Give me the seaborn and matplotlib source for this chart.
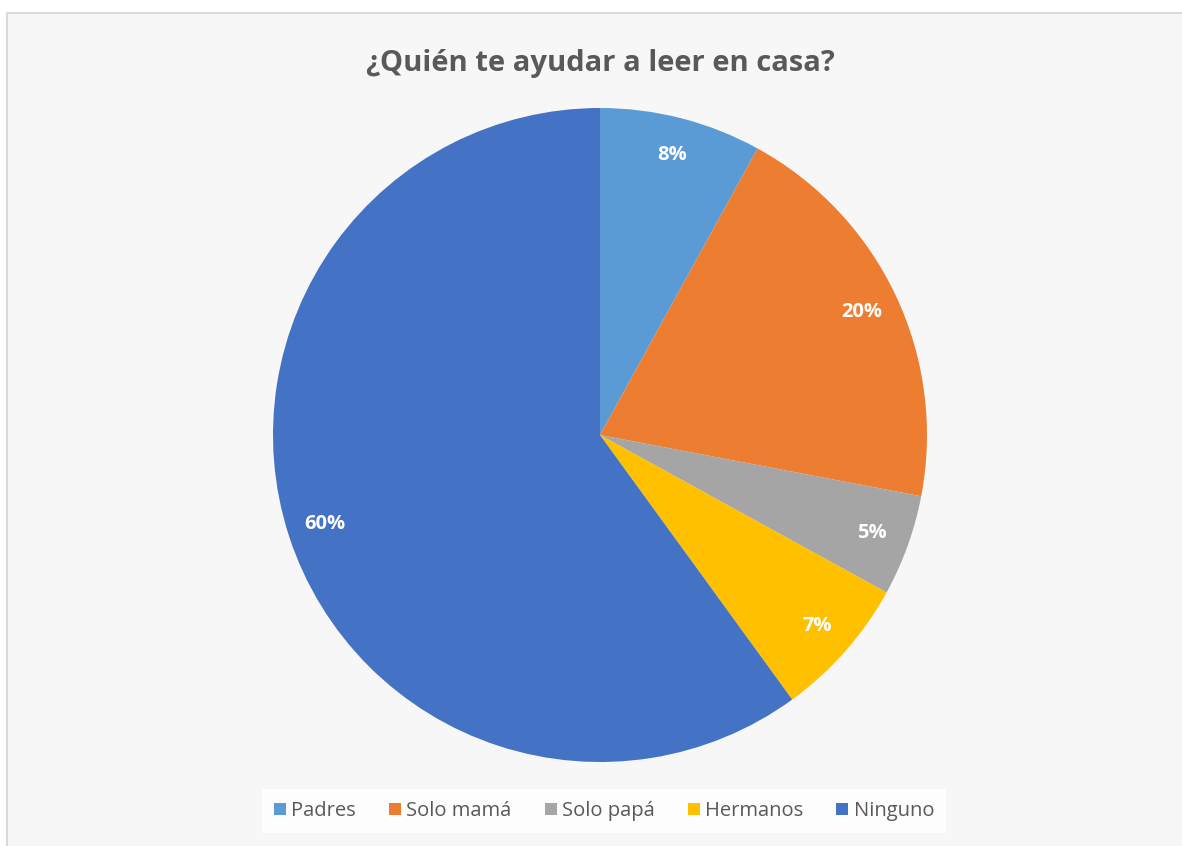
import matplotlib
matplotlib.use("Agg")
import matplotlib.pyplot as plt
import seaborn as sns
from matplotlib.patches import Rectangle

categories = ["Padres", "Solo mamá", "Solo papá", "Hermanos", "Ninguno"]
values = [8, 20, 5, 7, 60]
colors = ["#5B9BD5", "#ED7D31", "#A5A5A5", "#FFC000", "#4472C4"]
title = "¿Quién te ayudar a leer en casa?"

sns.set_theme(style="white")
plt.rcParams["font.family"] = ["Open Sans", "DejaVu Sans"]

W, H = 1182, 846
fig = plt.figure(figsize=(W / 100, H / 100), dpi=100)
fig.patch.set_facecolor("white")

# chart frame
fig.patches.append(Rectangle((6.5 / W, -0.01), 1.02, (H - 12.5) / H + 0.01,
                             transform=fig.transFigure, facecolor="#F7F7F7",
                             edgecolor="#D9D9D9", linewidth=1.5, zorder=-5))

cx, cy, r = 600, H - 435, 327
ax = fig.add_axes([(cx - r) / W, (cy - r) / H, 2 * r / W, 2 * r / H])
ax.set_zorder(2)
ax.set_facecolor("none")
wedges, texts, autotexts = ax.pie(
    values, colors=colors, startangle=90, counterclock=False,
    autopct=lambda p: f"{p:.0f}%", pctdistance=0.885,
    wedgeprops=dict(linewidth=0),
    textprops=dict(color="white", fontsize=14.5, fontweight="bold"),
    radius=1.0)
ax.set_xlim(-1, 1)
ax.set_ylim(-1, 1)
ax.set_aspect("equal")
ax.axis("off")

fig.text(cx / W, 1 - 63 / H, title, ha="center", va="center",
         fontsize=21, fontweight="bold", color="#595959")

leg = fig.legend(wedges, categories, loc="center", ncol=5,
                 bbox_to_anchor=(604 / W, 1 - 811 / H),
                 frameon=True, fancybox=False, facecolor="white",
                 edgecolor="white", fontsize=14.5, labelcolor="#595959",
                 handlelength=0.6, handleheight=0.6, handletextpad=0.25,
                 columnspacing=1.65, borderpad=0.6)
leg.get_frame().set_linewidth(0)
leg.set_zorder(3)

fig.savefig("out.png", dpi=100)
